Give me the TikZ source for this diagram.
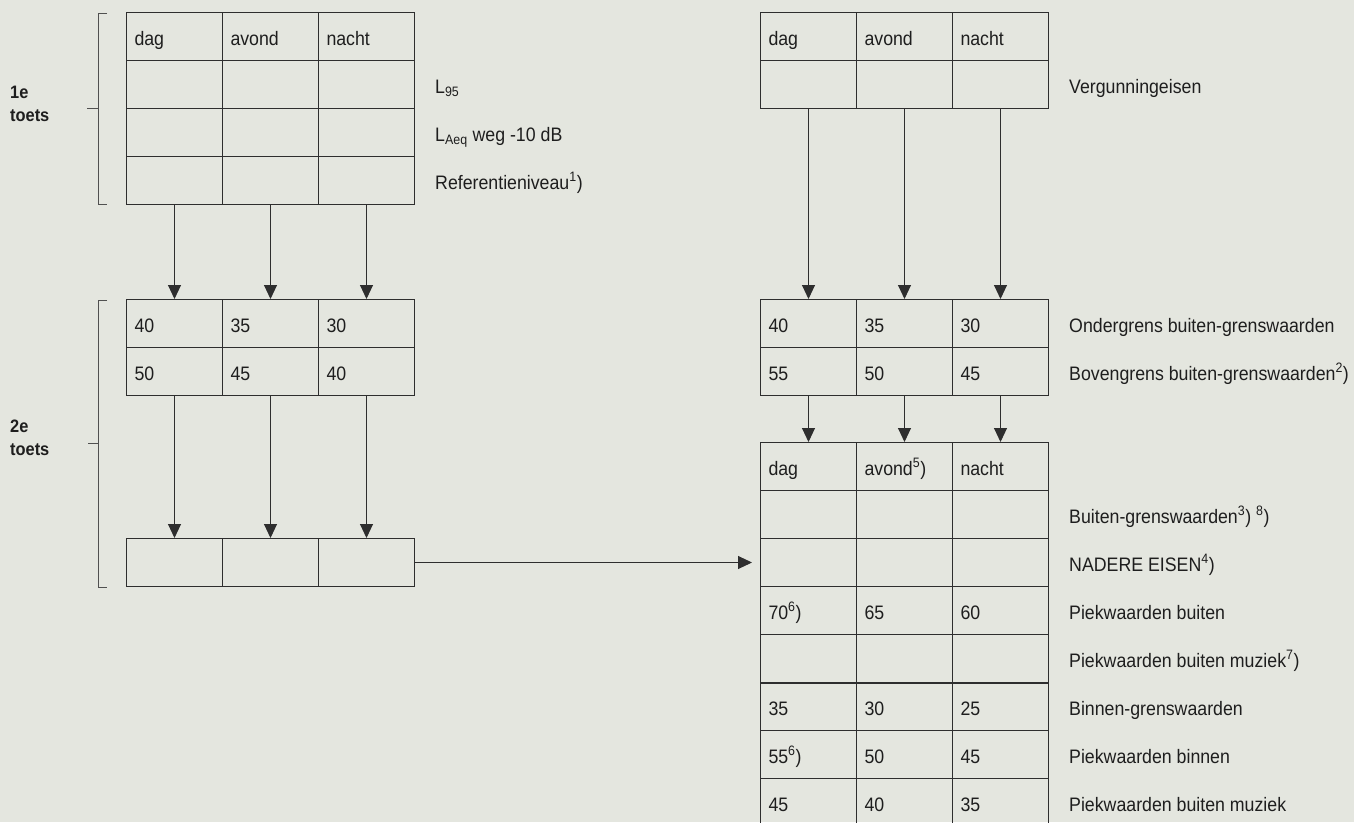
\documentclass[tikz,border=0pt]{standalone}
\usepackage{fontspec}
\setmainfont{Liberation Sans}[FakeStretch=0.91]
\usetikzlibrary{arrows.meta,positioning,calc}
\definecolor{cpaper}{RGB}{228,230,223}
\definecolor{cline}{HTML}{2E2E2E}
\definecolor{cink}{HTML}{1E1E1E}
\definecolor{cbrack}{HTML}{505050}
\tikzset{
  cell/.style={draw=cline, line width=1pt, anchor=north west, minimum width=96pt, minimum height=48pt,
    text width=80pt, inner xsep=8pt, inner ysep=0pt, align=left, text height=18pt, text depth=0pt,
    font=\fontsize{19.5}{22}\selectfont, text=cink},
  lbl/.style={anchor=base west, inner sep=0pt, font=\fontsize{19.5}{22}\selectfont, text=cink},
  toets/.style={anchor=west, align=left, inner sep=0pt, font=\bfseries\fontsize{18}{23}\selectfont, text=cink},
  flow/.style={-{Triangle[length=14pt,width=13pt]}, draw=cline, line width=1pt},
  brack/.style={draw=cbrack, line width=0.9pt},
  divide/.style={draw=cline, line width=2.4pt},
}
\begin{document}
\begin{tikzpicture}[x=1pt,y=-1pt]
\fill[cpaper] (0,0) rectangle (1354,822);
\clip (0,0) rectangle (1354,822);
% 1e toets
\foreach \r/\a/\b/\c in {1/dag/avond/nacht, 2/{}/{}/{}, 3/{}/{}/{}, 4/{}/{}/{}}{
  \node[cell] (ta-\r-1) at (126,{12+48*(\r-1)}) {\a};
  \node[cell] (ta-\r-2) at (222,{12+48*(\r-1)}) {\b};
  \node[cell] (ta-\r-3) at (318,{12+48*(\r-1)}) {\c};
}
\foreach \r/\t in {2/{L\textsubscript{95}}, 3/{L\textsubscript{Aeq} weg -10 dB}, 4/{Referentieniveau\textsuperscript{1})}}
  \node[lbl] (ta-l\r) at ($(ta-\r-3.east)+(20,9)$) {\t};
% 2e toets
\foreach \r/\a/\b/\c in {1/40/35/30, 2/50/45/40}{
  \node[cell] (tb-\r-1) at (126,{299+48*(\r-1)}) {\a};
  \node[cell] (tb-\r-2) at (222,{299+48*(\r-1)}) {\b};
  \node[cell] (tb-\r-3) at (318,{299+48*(\r-1)}) {\c};
}
\foreach \c in {1,2,3}
  \node[cell] (tc-1-\c) at ({126+96*(\c-1)},538) {};
% vergunning
\foreach \r/\a/\b/\c in {1/dag/avond/nacht, 2/{}/{}/{}}{
  \node[cell] (va-\r-1) at (760,{12+48*(\r-1)}) {\a};
  \node[cell] (va-\r-2) at (856,{12+48*(\r-1)}) {\b};
  \node[cell] (va-\r-3) at (952,{12+48*(\r-1)}) {\c};
}
\node[lbl] (va-l2) at ($(va-2-3.east)+(20,9)$) {Vergunningeisen};
\foreach \r/\a/\b/\c in {1/40/35/30, 2/55/50/45}{
  \node[cell] (vb-\r-1) at (760,{299+48*(\r-1)}) {\a};
  \node[cell] (vb-\r-2) at (856,{299+48*(\r-1)}) {\b};
  \node[cell] (vb-\r-3) at (952,{299+48*(\r-1)}) {\c};
}
\node[lbl] (vb-l1) at ($(vb-1-3.east)+(20,9)$) {Ondergrens buiten-grenswaarden};
\node[lbl] (vb-l2) at ($(vb-2-3.east)+(20,9)$) {Bovengrens buiten-grenswaarden\textsuperscript{2})};
\foreach \r/\a/\b/\c in {1/dag/{avond\textsuperscript{5})}/nacht, 2/{}/{}/{}, 3/{}/{}/{}, 4/{70\textsuperscript{6})}/65/60,
    5/{}/{}/{}, 6/35/30/25, 7/{55\textsuperscript{6})}/50/45, 8/45/40/35}{
  \node[cell] (vc-\r-1) at (760,{442+48*(\r-1)}) {\a};
  \node[cell] (vc-\r-2) at (856,{442+48*(\r-1)}) {\b};
  \node[cell] (vc-\r-3) at (952,{442+48*(\r-1)}) {\c};
}
\foreach \r/\t in {2/{Buiten-grenswaarden\textsuperscript{3}) \textsuperscript{8})}, 3/{NADERE EISEN\textsuperscript{4})},
    4/{Piekwaarden buiten}, 5/{Piekwaarden buiten muziek\textsuperscript{7})}, 6/{Binnen-grenswaarden},
    7/{Piekwaarden binnen}, 8/{Piekwaarden buiten muziek}}
  \node[lbl] (vc-l\r) at ($(vc-\r-3.east)+(20,9)$) {\t};
\draw[divide] (vc-5-1.south west) -- (vc-5-3.south east);
% arrows
\foreach \c in {1,2,3}{
  \draw[flow] (ta-4-\c.south) -- (tb-1-\c.north);
  \draw[flow] (tb-2-\c.south) -- (tc-1-\c.north);
  \draw[flow] (va-2-\c.south) -- (vb-1-\c.north);
  \draw[flow] (vb-2-\c.south) -- (vc-1-\c.north);
}
\draw[flow, shorten >=8pt] (tc-1-3.east) -- (vc-3-1.west);
% brackets
\draw[brack] (107,13) -- (98,13) -- (98,204) -- (107,204);
\draw[brack] (98,108) -- (87,108);
\draw[brack] (107,300) -- (98,300) -- (98,587) -- (107,587);
\draw[brack] (98,443) -- (88,443);
\node[toets] (t1) at (10,104) {1e\\toets};
\node[toets] (t2) at (10,438) {2e\\toets};
\end{tikzpicture}
\end{document}
